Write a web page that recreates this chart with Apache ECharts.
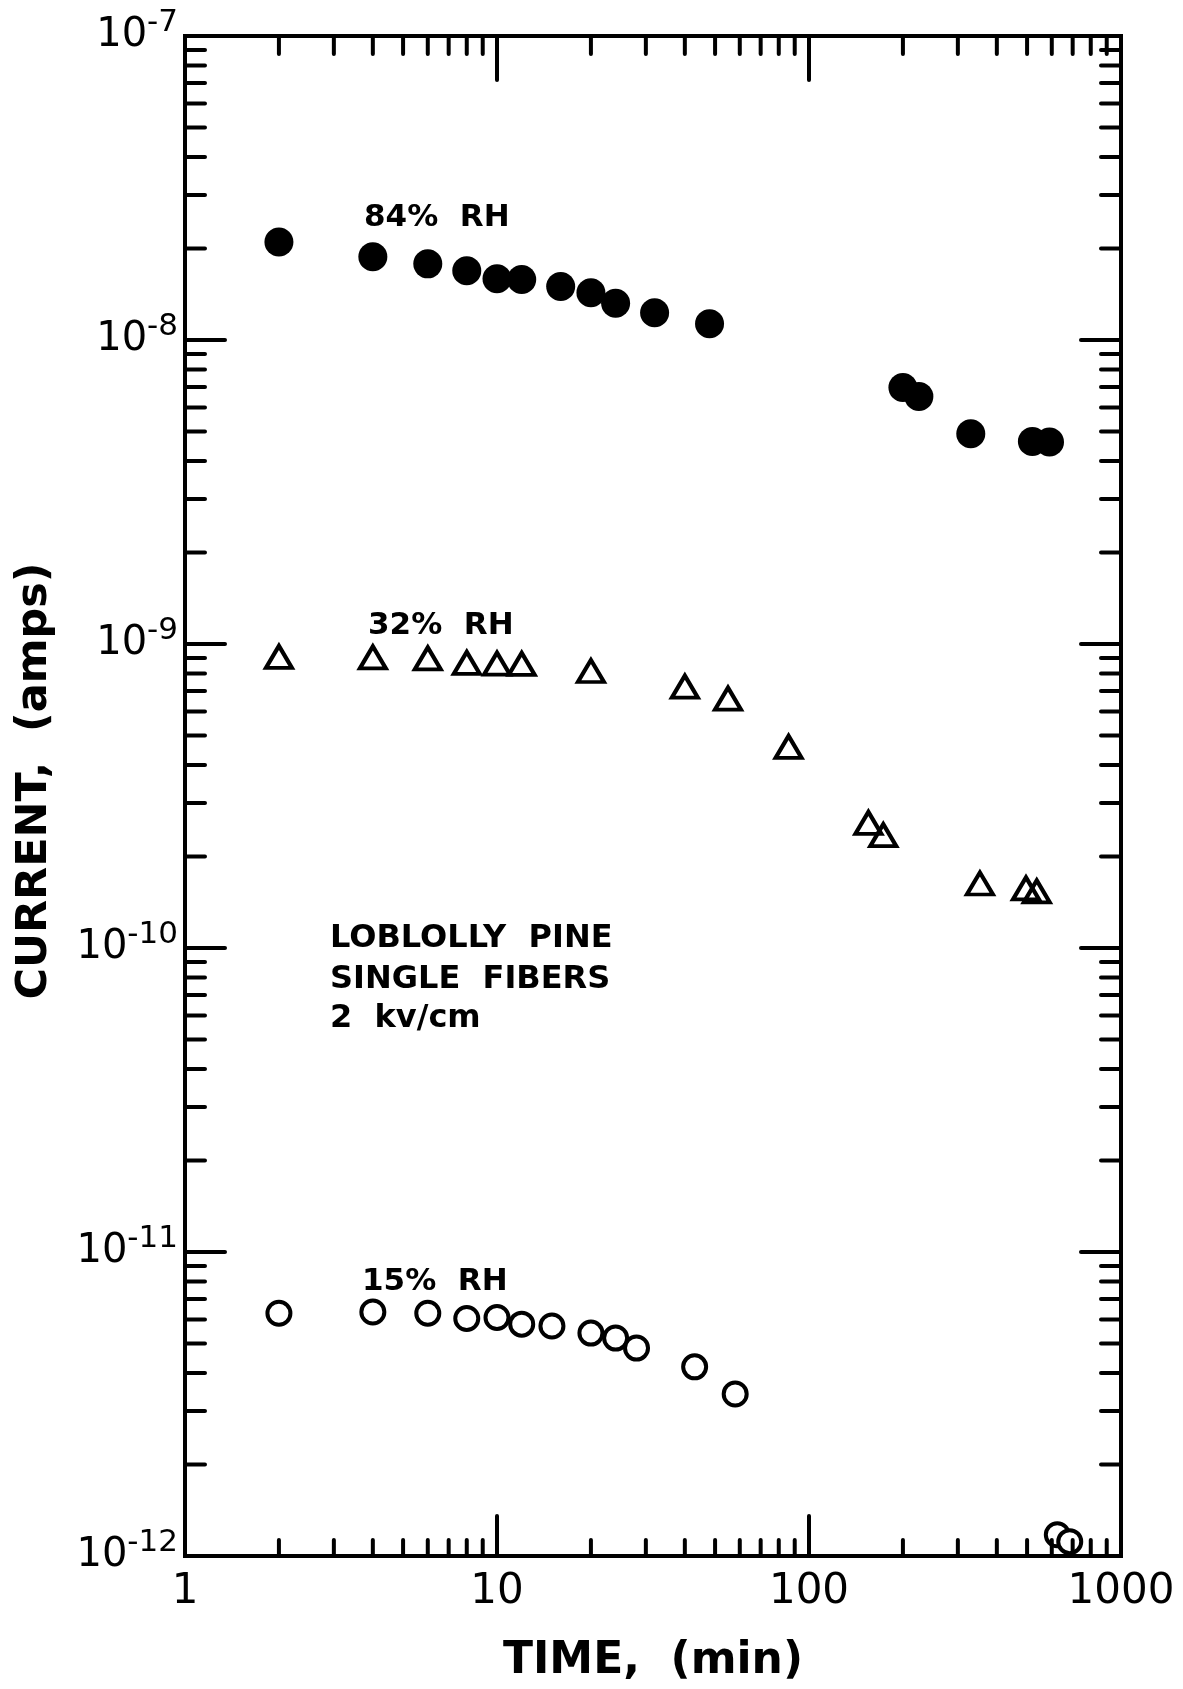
<!DOCTYPE html>
<html><head><meta charset="utf-8">
<script src="https://cdn.jsdelivr.net/npm/echarts@6/dist/echarts.min.js"></script>
<style>html,body{margin:0;padding:0;background:#fff}#c{width:1183px;height:1689px}</style>
</head><body><div id="c"></div>
<script>
// ---- data (time in min, current in amps) ----
const rh84Time    = [2, 4, 6, 8, 10, 12, 16, 20, 24, 32, 48, 200, 225, 330, 520, 590];
const rh84Current = [2.1e-8, 1.88e-8, 1.78e-8, 1.69e-8, 1.59e-8, 1.58e-8, 1.50e-8, 1.43e-8, 1.32e-8, 1.23e-8, 1.13e-8, 6.98e-9, 6.52e-9, 4.92e-9, 4.64e-9, 4.62e-9];

const rh32Time    = [2, 4, 6, 8, 10, 12, 20, 40, 55, 86, 155, 173, 353, 496, 537];
const rh32Current = [9.07e-10, 9.04e-10, 8.97e-10, 8.67e-10, 8.62e-10, 8.6e-10, 8.15e-10, 7.24e-10, 6.61e-10, 4.59e-10, 2.58e-10, 2.35e-10, 1.63e-10, 1.57e-10, 1.535e-10];

const rh15Time    = [2, 4, 6, 8, 10, 12, 15, 20, 24, 28, 43, 58, 625, 685];
const rh15Current = [6.29e-12, 6.35e-12, 6.29e-12, 6.04e-12, 6.09e-12, 5.79e-12, 5.71e-12, 5.41e-12, 5.21e-12, 4.83e-12, 4.19e-12, 3.41e-12, 1.175e-12, 1.115e-12];

const seriesNames = ['84% RH', '32% RH', '15% RH'];
const seriesLabels = ['84%  RH', '32%  RH', '15%  RH'];
const noteLines = ['LOBLOLLY  PINE', 'SINGLE  FIBERS', '2  kv/cm'];
const xAxisTitle = 'TIME,  (min)';
const yAxisTitle = 'CURRENT,  (amps)';

// ---- axis ticks ----
const xMajorTicks = [1, 10, 100, 1000];
const xMinorTicks = [2, 3, 4, 5, 6, 7, 8, 9, 20, 30, 40, 50, 60, 70, 80, 90, 200, 300, 400, 500, 600, 700, 800, 900];
const yMajorTicks = [1e-12, 1e-11, 1e-10, 1e-9, 1e-8, 1e-7];
const yMantissas = [2, 3, 4, 5, 6, 7, 8, 9];
const yMinorTicks = [-12, -11, -10, -9, -8].flatMap(e => yMantissas.map(m => m * Math.pow(10, e)));

const X_MIN = 1, X_MAX = 1000, Y_MIN = 1e-12, Y_MAX = 1e-7;
const zip = (a, b) => a.map((v, i) => [v, b[i]]);

const chart = echarts.init(document.getElementById('c'), null, {renderer: 'canvas'});
const black = '#000';
const tickStyle = {stroke: black, lineWidth: 4, lineCap: 'round'};

const xTickData = xMajorTicks.filter(v => v > X_MIN && v < X_MAX).map(v => [v, Y_MIN, 1])
  .concat(xMinorTicks.map(v => [v, Y_MIN, 0]));
const yTickData = yMajorTicks.filter(v => v > Y_MIN && v < Y_MAX).map(v => [X_MIN, v, 1])
  .concat(yMinorTicks.map(v => [X_MIN, v, 0]));

const FONT = 'DejaVu Sans';
const noteFont = 'bold 32px "DejaVu Sans"';
const rhFont = 'bold 31px "DejaVu Sans"';

chart.setOption({
  animation: false,
  backgroundColor: '#fff',
  grid: {left: 185, right: 62, top: 36, bottom: 132, show: true, borderColor: black, borderWidth: 4, backgroundColor: 'transparent'},
  xAxis: {
    type: 'log', logBase: 10, min: X_MIN, max: X_MAX,
    axisLine: {show: false}, axisTick: {show: false}, splitLine: {show: false}, minorTick: {show: false},
    axisLabel: {
      margin: 15, color: black, fontFamily: FONT, fontSize: 42, showMinLabel: true, showMaxLabel: true,
      formatter: v => String(Math.round(v))
    },
    name: xAxisTitle, nameLocation: 'middle', nameGap: 84,
    nameTextStyle: {color: black, fontFamily: FONT, fontSize: 44, fontWeight: 'bold'}
  },
  yAxis: {
    type: 'log', logBase: 10, min: Y_MIN, max: Y_MAX, splitNumber: 5,
    axisLine: {show: false}, axisTick: {show: false}, splitLine: {show: false}, minorTick: {show: false},
    axisLabel: {
      margin: 7, color: black, showMinLabel: true, showMaxLabel: true,
      formatter: v => '{b|10}{s|' + Math.round(Math.log10(v)) + '}',
      rich: {
        b: {fontFamily: FONT, fontSize: 40, color: black},
        s: {fontFamily: FONT, fontSize: 31, color: black, padding: [0, 0, 26, 0]}
      }
    }
  },
  graphic: [
    {type: 'text', x: 35, y: 781, rotation: Math.PI / 2,
     style: {text: yAxisTitle, fill: black, font: 'bold 43px "DejaVu Sans"', align: 'center', verticalAlign: 'middle'}},
    {type: 'text', x: 364, y: 218, style: {text: seriesLabels[0], fill: black, font: rhFont, align: 'left', verticalAlign: 'middle'}},
    {type: 'text', x: 368, y: 626, style: {text: seriesLabels[1], fill: black, font: rhFont, align: 'left', verticalAlign: 'middle'}},
    {type: 'text', x: 362, y: 1282, style: {text: seriesLabels[2], fill: black, font: rhFont, align: 'left', verticalAlign: 'middle'}},
    {type: 'text', x: 330, y: 939, style: {text: noteLines[0], fill: black, font: noteFont, align: 'left', verticalAlign: 'middle'}},
    {type: 'text', x: 330, y: 980, style: {text: noteLines[1], fill: black, font: noteFont, align: 'left', verticalAlign: 'middle'}},
    {type: 'text', x: 330, y: 1019, style: {text: noteLines[2], fill: black, font: noteFont, align: 'left', verticalAlign: 'middle'}}
  ],
  series: [
    {
      type: 'custom', coordinateSystem: 'cartesian2d', silent: true, z: 5, data: xTickData,
      renderItem: (params, api) => {
        const v = api.value(0), major = api.value(2) === 1;
        const b = api.coord([v, Y_MIN]), t = api.coord([v, Y_MAX]);
        const lb = major ? 40 : 16, lt = major ? 44 : 18;
        return {type: 'group', children: [
          {type: 'line', shape: {x1: b[0], y1: b[1], x2: b[0], y2: b[1] - lb}, style: tickStyle},
          {type: 'line', shape: {x1: t[0], y1: t[1], x2: t[0], y2: t[1] + lt}, style: tickStyle}
        ]};
      }
    },
    {
      type: 'custom', coordinateSystem: 'cartesian2d', silent: true, z: 5, data: yTickData,
      renderItem: (params, api) => {
        const v = api.value(1), major = api.value(2) === 1;
        const l = api.coord([X_MIN, v]), r = api.coord([X_MAX, v]);
        const len = major ? 40 : 20;
        return {type: 'group', children: [
          {type: 'line', shape: {x1: l[0], y1: l[1], x2: l[0] + len, y2: l[1]}, style: tickStyle},
          {type: 'line', shape: {x1: r[0], y1: r[1], x2: r[0] - len, y2: r[1]}, style: tickStyle}
        ]};
      }
    },
    {
      name: seriesNames[0], type: 'scatter', data: zip(rh84Time, rh84Current),
      symbol: 'circle', symbolSize: 29, itemStyle: {color: black, opacity: 1}
    },
    {
      name: seriesNames[1], type: 'scatter', data: zip(rh32Time, rh32Current),
      symbol: 'triangle', symbolSize: [26, 22],
      itemStyle: {color: 'rgba(255,255,255,0)', borderColor: black, borderWidth: 4, opacity: 1}
    },
    {
      name: seriesNames[2], type: 'scatter', data: zip(rh15Time, rh15Current),
      symbol: 'circle', symbolSize: 23,
      itemStyle: {color: '#fff', borderColor: black, borderWidth: 4, opacity: 1}
    }
  ]
});
</script>
</body></html>
